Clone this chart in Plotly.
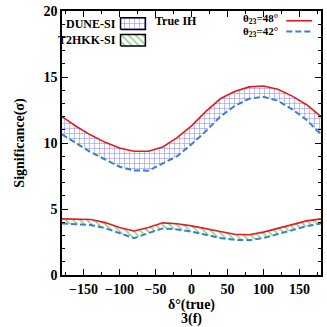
import plotly.graph_objects as go

# delta_CP (true) grid, degrees
delta = [-180, -160, -140, -120, -100, -80, -60, -40, -20, 0,
         20, 40, 60, 80, 100, 120, 140, 160, 180]

# DUNE-SI, true IH
dune_48 = [12.0, 11.25, 10.6, 10.05, 9.62, 9.38, 9.38, 9.7, 10.4, 11.3,
           12.4, 13.35, 13.9, 14.25, 14.32, 14.07, 13.55, 12.9, 12.0]
dune_42 = [10.65, 10.0, 9.3, 8.75, 8.2, 7.92, 7.9, 8.45, 9.0, 9.9,
           10.9, 12.0, 12.8, 13.35, 13.5, 13.2, 12.55, 11.75, 10.65]

# T2HKK-SI, true IH
t2hkk_48 = [4.25, 4.23, 4.2, 3.97, 3.6, 3.33, 3.6, 3.95, 3.88, 3.72,
            3.53, 3.3, 3.09, 3.05, 3.25, 3.55, 3.85, 4.1, 4.25]
t2hkk_42 = [3.9, 3.85, 3.78, 3.55, 3.15, 2.79, 3.17, 3.53, 3.45, 3.28,
            3.05, 2.8, 2.66, 2.64, 2.8, 3.1, 3.45, 3.7, 3.9]

x_ticks = [-150, -100, -50, 0, 50, 100, 150]
x_labels = ["\u2212150", "\u2212100", "\u221250", "0", "50", "100", "150"]
y_ticks = [0, 5, 10, 15, 20]

RED = "#e41a1c"
BLUE = "#3a80c8"
GRID_BLUE = "#1f1fff"
HATCH_GREEN = "#1a9a1a"
FONT = "Liberation Serif"
DASH = "6px,3px"

fig = go.Figure()

# DUNE band
fig.add_trace(go.Scatter(x=delta, y=dune_42, mode="lines",
                         line=dict(color=BLUE, width=2, dash=DASH)))
fig.add_trace(go.Scatter(x=delta, y=dune_48, mode="lines", fill="tonexty",
                         fillcolor="rgba(0,0,0,0)",
                         fillpattern=dict(shape="+", fgcolor=GRID_BLUE,
                                          bgcolor="rgba(0,0,0,0)", size=5, solidity=0.22),
                         line=dict(color=RED, width=1.6)))

# T2HKK band
fig.add_trace(go.Scatter(x=delta, y=t2hkk_42, mode="lines",
                         line=dict(color=BLUE, width=2, dash=DASH)))
fig.add_trace(go.Scatter(x=delta, y=t2hkk_48, mode="lines", fill="tonexty",
                         fillcolor="rgba(0,0,0,0)",
                         fillpattern=dict(shape="\\", fgcolor=HATCH_GREEN,
                                          bgcolor="rgba(0,0,0,0)", size=5, solidity=0.3),
                         line=dict(color=RED, width=1.6)))

# legend boxes, on an overlay axis in fractions of the plot area
boxes = [
    ([0.226, 0.322], [0.930, 0.974], "+", GRID_BLUE, 5, 0.22),
    ([0.226, 0.322], [0.867, 0.911], "\\", HATCH_GREEN, 5, 0.3),
]
for (bx, by, shp, col, sz, sol) in boxes:
    fig.add_trace(go.Scatter(
        x=[bx[0], bx[1], bx[1], bx[0], bx[0]],
        y=[by[0], by[0], by[1], by[1], by[0]],
        mode="lines", fill="toself", fillcolor="rgba(0,0,0,0)",
        fillpattern=dict(shape=shp, fgcolor=col, bgcolor="white", size=sz, solidity=sol),
        line=dict(color="black", width=1.5),
        xaxis="x2", yaxis="y2"))

axis_common = dict(
    showline=True, linecolor="black", linewidth=1.5, mirror="ticks",
    ticks="inside", ticklen=6, tickwidth=1, tickcolor="black",
    showgrid=False, zeroline=False, tickangle=0,
    tickfont=dict(family=FONT, size=14, color="black", weight="bold"),
)

fig.update_layout(
    width=327, height=327,
    margin=dict(l=62, r=4, t=5, b=52),
    plot_bgcolor="white", paper_bgcolor="white",
    showlegend=False,
    font=dict(family=FONT, color="black"),
    xaxis=dict(range=[-180, 180], tickvals=x_ticks, ticktext=x_labels,
               minor=dict(dtick=25, tick0=0, ticks="inside", ticklen=3, tickcolor="black"),
               title=dict(text="\u03b4\u00b0(true)", standoff=3,
                          font=dict(family=FONT, size=14, weight="bold")),
               **axis_common),
    yaxis=dict(range=[0, 20], tickvals=y_ticks,
               minor=dict(dtick=1, ticks="inside", ticklen=3, tickcolor="black"),
               title=dict(text="Significance(\u03c3)", standoff=16,
                          font=dict(family=FONT, size=14, weight="bold")),
               **axis_common),
    xaxis2=dict(range=[0, 1], overlaying="x", visible=False, fixedrange=True),
    yaxis2=dict(range=[0, 1], overlaying="y", visible=False, fixedrange=True),
)

lab = dict(family=FONT, size=12, color="black", weight="bold")
small = dict(family=FONT, size=11, color="black", weight="bold")
fig.add_annotation(x=0.215, y=0.952, xref="paper", yref="paper", text="DUNE-SI",
                   showarrow=False, xanchor="right", yanchor="middle", font=lab)
fig.add_annotation(x=0.215, y=0.889, xref="paper", yref="paper", text="T2HKK-SI",
                   showarrow=False, xanchor="right", yanchor="middle", font=lab)
fig.add_annotation(x=0.44, y=0.963, xref="paper", yref="paper", text="True IH",
                   showarrow=False, xanchor="center", yanchor="middle", font=lab)
fig.add_annotation(x=0.842, y=0.968, xref="paper", yref="paper",
                   text="\u03b8<sub>23</sub>=48\u00b0",
                   showarrow=False, xanchor="right", yanchor="middle", font=small)
fig.add_annotation(x=0.842, y=0.920, xref="paper", yref="paper",
                   text="\u03b8<sub>23</sub>=42\u00b0",
                   showarrow=False, xanchor="right", yanchor="middle", font=small)
fig.add_shape(type="line", xref="paper", yref="paper", x0=0.866, x1=0.966,
              y0=0.963, y1=0.963, line=dict(color=RED, width=1.6))
fig.add_shape(type="line", xref="paper", yref="paper", x0=0.866, x1=0.966,
              y0=0.922, y1=0.922, line=dict(color=BLUE, width=2, dash=DASH))

fig.add_annotation(x=0.5, y=-0.127, xref="paper", yref="paper", text="3(f)",
                   showarrow=False, xanchor="center", yanchor="top",
                   font=dict(family=FONT, size=14, color="black", weight="bold"))

fig.write_html("out.html", config={"displayModeBar": False},
               post_script="document.body.style.margin='0';")
